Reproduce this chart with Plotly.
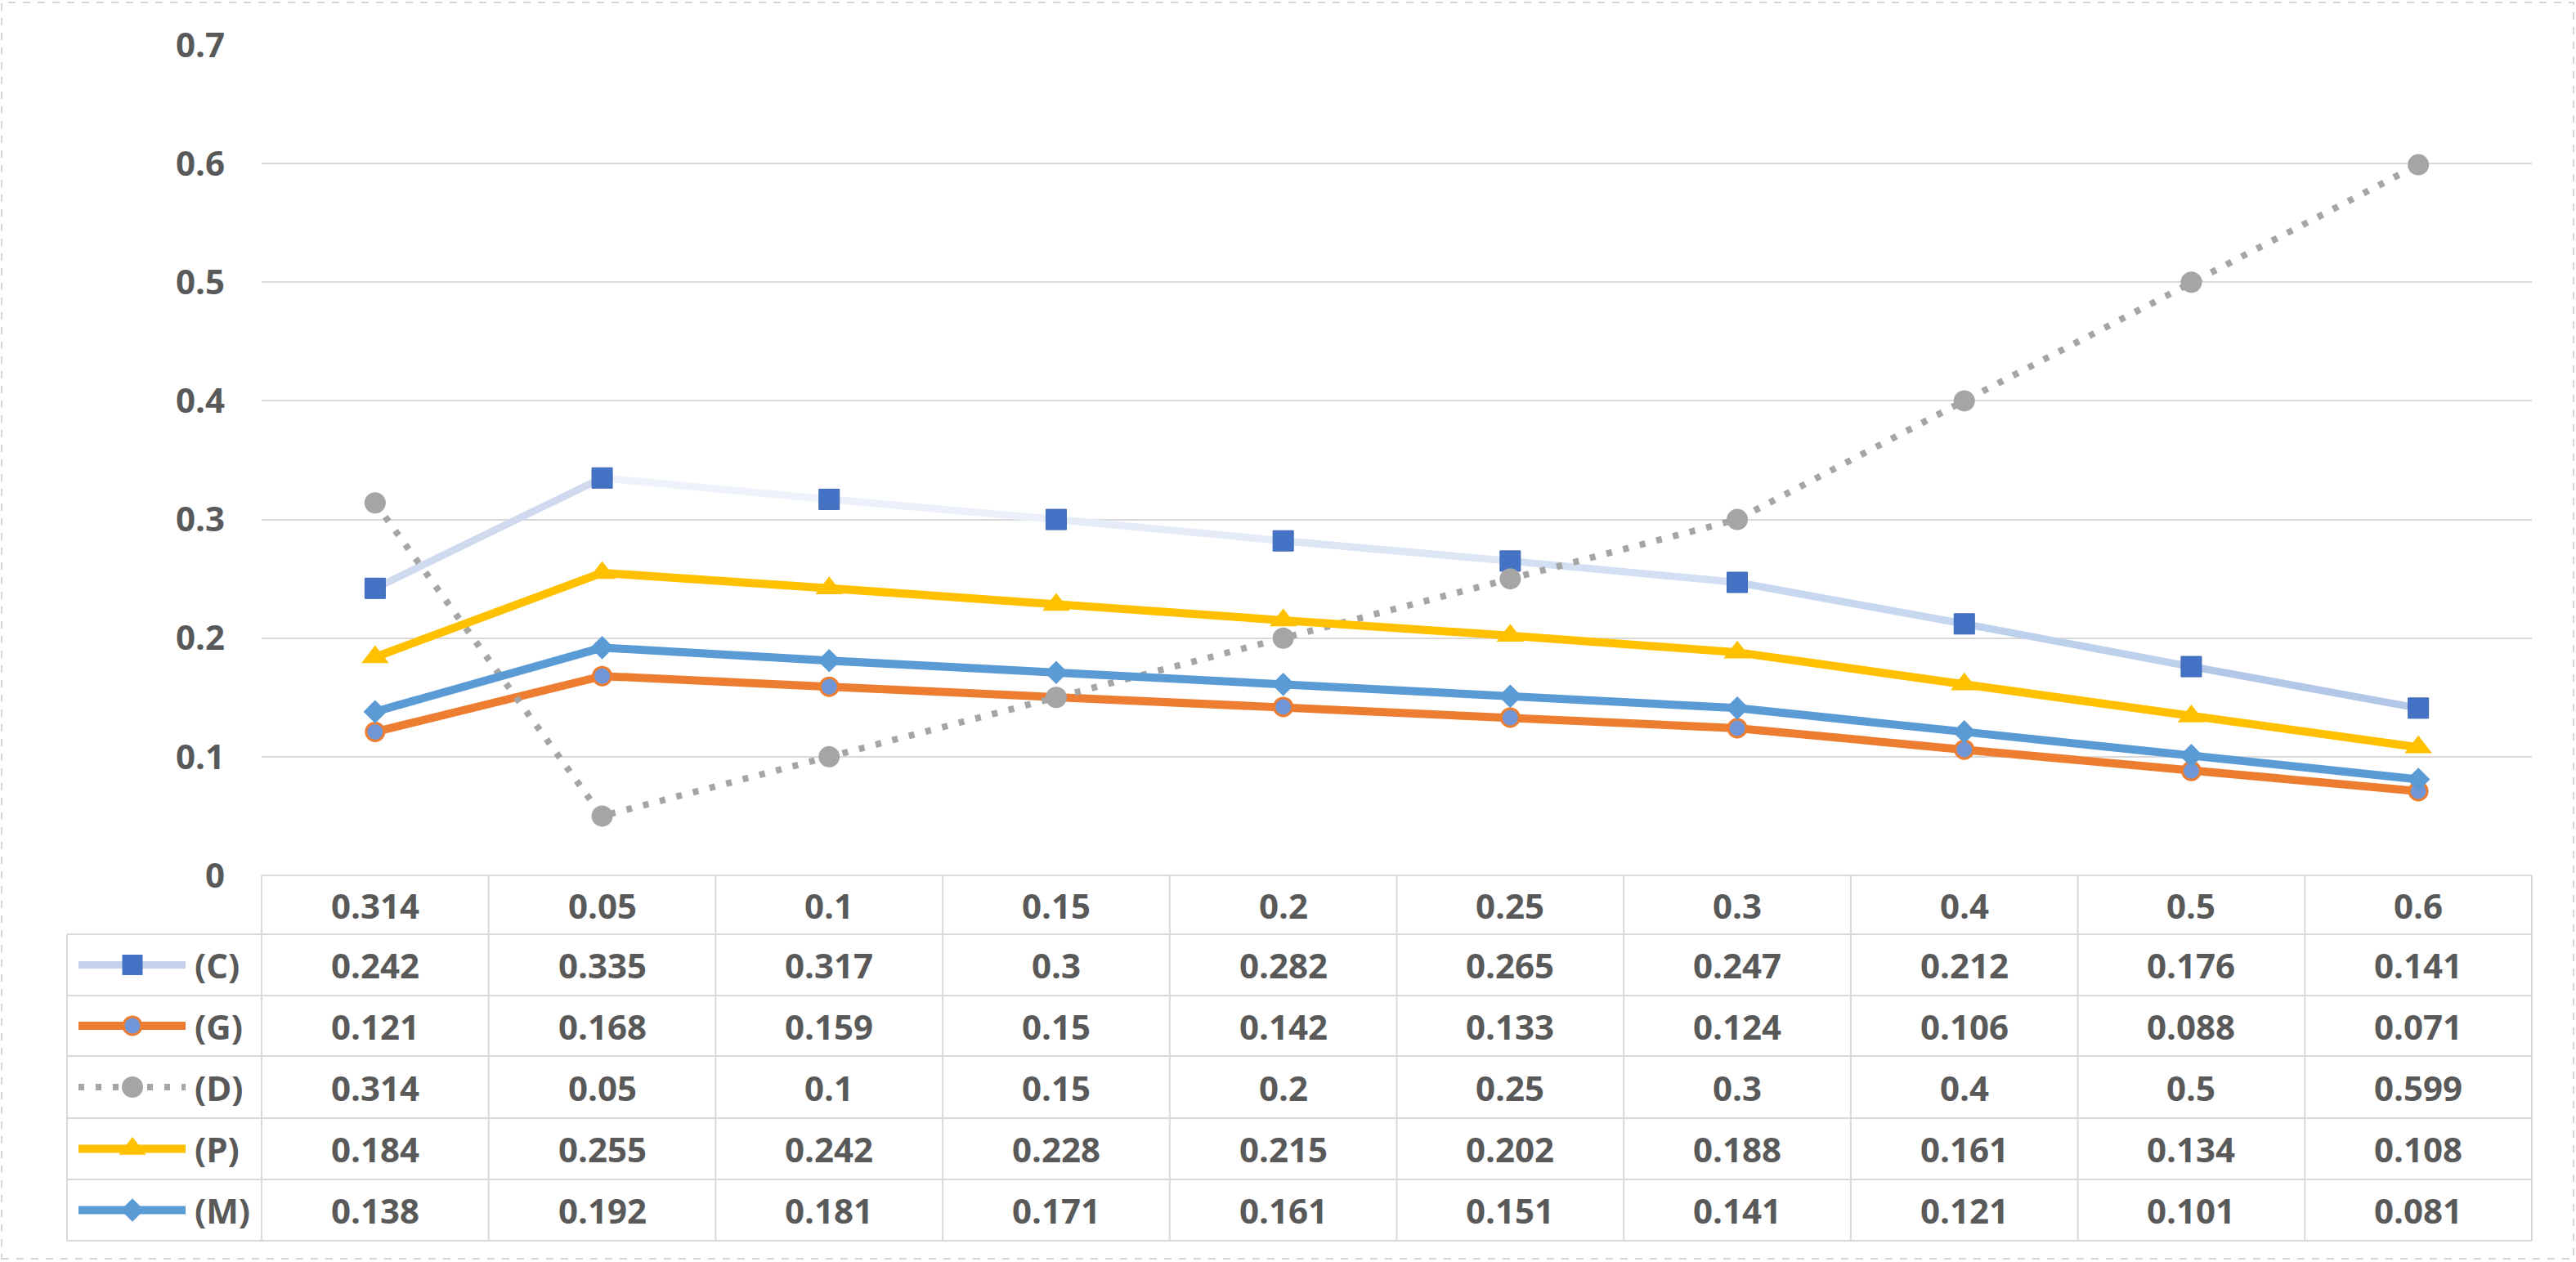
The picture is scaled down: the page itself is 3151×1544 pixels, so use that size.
import plotly.graph_objects as go

# ---------------- data ----------------
categories = ["0.314", "0.05", "0.1", "0.15", "0.2", "0.25", "0.3", "0.4", "0.5", "0.6"]
series_names = ["(C)", "(G)", "(D)", "(P)", "(M)"]
C_vals = [0.242, 0.335, 0.317, 0.3, 0.282, 0.265, 0.247, 0.212, 0.176, 0.141]
G_vals = [0.121, 0.168, 0.159, 0.15, 0.142, 0.133, 0.124, 0.106, 0.088, 0.071]
D_vals = [0.314, 0.05, 0.1, 0.15, 0.2, 0.25, 0.3, 0.4, 0.5, 0.599]
P_vals = [0.184, 0.255, 0.242, 0.228, 0.215, 0.202, 0.188, 0.161, 0.134, 0.108]
M_vals = [0.138, 0.192, 0.181, 0.171, 0.161, 0.151, 0.141, 0.121, 0.101, 0.081]
y_ticks = [0, 0.1, 0.2, 0.3, 0.4, 0.5, 0.6, 0.7]

# ---------------- layout geometry (pixels) ----------------
W, H = 3151, 1544
PX_L, PX_R = 320, 3097          # plot area left / right
PX_TOP, PX_ZERO = 55, 1071      # y=0.7 and y=0 positions
LEG_L = 82                      # legend column left edge
ROWS = [1071, 1143, 1218, 1292, 1368, 1443, 1518]  # table row boundaries

FONT = "Open Sans"
TXT = "#595959"
GRID = "#d9d9d9"

def px(x):
    return x / W

def py(y):
    return 1 - y / H

n = len(categories)
colw = (PX_R - PX_L) / n

fig = go.Figure()

# ---- C line drawn with a fading gradient (segment colours) ----
c_seg_colors = ["#d0daef", "#eef2fa", "#ebf0fa", "#e5ecf8", "#dde6f5",
                "#d3dff3", "#c8d7f0", "#bdd0ec", "#b3c7e8"]
for i in range(n - 1):
    fig.add_trace(go.Scatter(
        x=categories[i:i + 2], y=C_vals[i:i + 2], mode="lines",
        line=dict(color=c_seg_colors[i], width=9), hoverinfo="skip", showlegend=False))
fig.add_trace(go.Scatter(
    x=categories, y=C_vals, mode="markers", name="(C)",
    marker=dict(symbol="square", size=25, color="#4472c4",
                line=dict(color="#3d68b5", width=1)), showlegend=False))

styles = {
    "(G)": dict(vals=G_vals, line=dict(color="#ed7d31", width=10),
                marker=dict(symbol="circle", size=22, color="#7196d8",
                            line=dict(color="#ed7d31", width=3))),
    "(D)": dict(vals=D_vals, line=dict(color="#a5a5a5", width=8, dash="7px,14px"),
                marker=dict(symbol="circle", size=26, color="#a5a5a5",
                            line=dict(color="#a5a5a5", width=0))),
    "(P)": dict(vals=P_vals, line=dict(color="#ffc000", width=10),
                marker=dict(symbol="triangle-up", size=29, color="#ffc000",
                            line=dict(color="#ffc000", width=0))),
    "(M)": dict(vals=M_vals, line=dict(color="#5b9bd5", width=10),
                marker=dict(symbol="diamond", size=22, color="#5b9bd5",
                            line=dict(color="#5b9bd5", width=0))),
}
for name in ["(G)", "(D)", "(P)", "(M)"]:
    s = styles[name]
    fig.add_trace(go.Scatter(x=categories, y=s["vals"], mode="lines+markers",
                             name=name, line=s["line"], marker=s["marker"],
                             showlegend=False))

# ---- legend keys in table (pixel coordinate overlay axes) ----
legend_keys = {
    "(C)": (dict(color="#c3d1ec", width=9),
            dict(symbol="square", size=25, color="#4472c4", line=dict(width=0))),
    "(G)": (styles["(G)"]["line"], styles["(G)"]["marker"]),
    "(D)": (styles["(D)"]["line"], styles["(D)"]["marker"]),
    "(P)": (styles["(P)"]["line"], styles["(P)"]["marker"]),
    "(M)": (styles["(M)"]["line"], styles["(M)"]["marker"]),
}
for r, name in enumerate(series_names):
    yc = (ROWS[r + 1] + ROWS[r + 2]) / 2
    ln, mk = legend_keys[name]
    fig.add_trace(go.Scatter(x=[96, 227], y=[yc, yc], mode="lines", line=ln,
                             xaxis="x2", yaxis="y2", hoverinfo="skip", showlegend=False))
    fig.add_trace(go.Scatter(x=[162], y=[yc], mode="markers", marker=mk,
                             xaxis="x2", yaxis="y2", hoverinfo="skip", showlegend=False))

# ---- table grid lines ----
shapes = []
line_style = dict(color=GRID, width=2)
shapes.append(dict(type="line", xref="paper", yref="paper",
                   x0=px(PX_L), x1=px(PX_R), y0=py(ROWS[0]), y1=py(ROWS[0]), line=line_style))
for yb in ROWS[1:]:
    shapes.append(dict(type="line", xref="paper", yref="paper",
                       x0=px(LEG_L), x1=px(PX_R), y0=py(yb), y1=py(yb), line=line_style))
shapes.append(dict(type="line", xref="paper", yref="paper",
                   x0=px(LEG_L), x1=px(LEG_L), y0=py(ROWS[1]), y1=py(ROWS[-1]), line=line_style))
for k in range(n + 1):
    xx = PX_L + k * colw
    shapes.append(dict(type="line", xref="paper", yref="paper",
                       x0=px(xx), x1=px(xx), y0=py(ROWS[0]), y1=py(ROWS[-1]), line=line_style))
# outer dashed chart border
shapes.append(dict(type="rect", xref="paper", yref="paper",
                   x0=px(2), x1=px(3148), y0=py(1540), y1=py(3),
                   line=dict(color="#d6d6d6", width=2, dash="dash")))

# ---- table text ----
tfont = dict(family=FONT, size=42, color=TXT, weight=700)
annotations = []
hc = (ROWS[0] + ROWS[1]) / 2
for i, c in enumerate(categories):
    annotations.append(dict(x=i, y=py(hc), xref="x", yref="paper", text=c,
                            showarrow=False, font=tfont, xanchor="center", yanchor="middle"))
all_vals = [C_vals, G_vals, D_vals, P_vals, M_vals]
for r, (name, vals) in enumerate(zip(series_names, all_vals)):
    yc = (ROWS[r + 1] + ROWS[r + 2]) / 2
    annotations.append(dict(x=px(236), y=py(yc), xref="paper", yref="paper", text=name,
                            showarrow=False, font=tfont, xanchor="left", yanchor="middle"))
    for i, v in enumerate(vals):
        annotations.append(dict(x=i, y=py(yc), xref="x", yref="paper",
                                text=f"{v:g}", showarrow=False, font=tfont,
                                xanchor="center", yanchor="middle"))

fig.update_layout(
    width=W, height=H, autosize=False,
    margin=dict(l=0, r=0, t=0, b=0, pad=0, autoexpand=False),
    paper_bgcolor="white", plot_bgcolor="rgba(0,0,0,0)",
    showlegend=False,
    font=dict(family=FONT, color=TXT),
    xaxis=dict(type="category", categoryorder="array", categoryarray=categories,
               range=[-0.5, n - 0.5], domain=[px(PX_L), px(PX_R)],
               showticklabels=False, showgrid=False, zeroline=False, showline=False,
               ticks="", automargin=False, fixedrange=True),
    yaxis=dict(range=[0, 0.7], domain=[py(PX_ZERO), py(PX_TOP)],
               tickvals=y_ticks, ticktext=[f"{t:g}" for t in y_ticks],
               showgrid=True, gridcolor=GRID, gridwidth=2, zeroline=False,
               showline=False, ticks="", ticklabelstandoff=44, automargin=False,
               tickfont=dict(family=FONT, size=42, color=TXT, weight=700),
               fixedrange=True),
    xaxis2=dict(domain=[0, 1], range=[0, W], anchor="y2", visible=False,
                automargin=False, fixedrange=True),
    yaxis2=dict(domain=[0, 1], range=[H, 0], anchor="x2", visible=False,
                automargin=False, fixedrange=True),
    shapes=shapes,
    annotations=annotations,
    hovermode=False,
)

fig.write_html("out.html", include_plotlyjs=True, config={"displayModeBar": False},
               post_script="document.body.style.margin='0';document.body.style.overflow='hidden';")
